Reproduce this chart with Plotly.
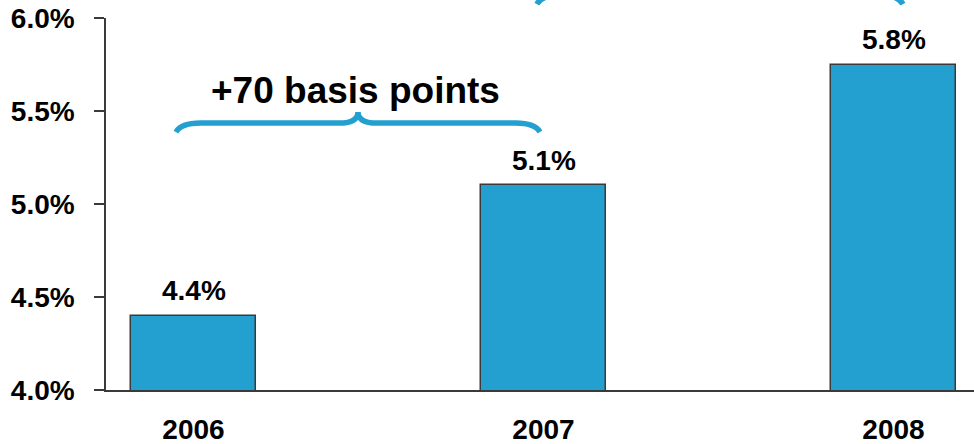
import plotly.graph_objects as go

# Yearly rate, in percent
years = ["2006", "2007", "2008"]
rates = [4.4, 5.1, 5.75]

# Value axis ticks
y_ticks = [4.0, 4.5, 5.0, 5.5, 6.0]
y_tick_labels = ["4.0%", "4.5%", "5.0%", "5.5%", "6.0%"]

brace_label = "+70 basis points"

BLUE = "#24A0D0"
DARK = "#3A3A3A"
FONT = "Arial, Liberation Sans, sans-serif"

X_RANGE = [-0.25, 2.23]
Y_RANGE = [4.0, 6.0]


def to_paper(x, y):
    px = (x - X_RANGE[0]) / (X_RANGE[1] - X_RANGE[0])
    py = (y - Y_RANGE[0]) / (Y_RANGE[1] - Y_RANGE[0])
    return px, py


def brace_path(x0, x1, y_tip, y_line, y_peak, r_end=0.07, r_mid=0.055):
    """Curly brace opening downward, in paper coordinates."""
    xm = (x0 + x1) / 2
    pts = {
        "tipL": to_paper(x0, y_tip),
        "cL": to_paper(x0 + 0.015, y_line),
        "hL": to_paper(x0 + r_end, y_line),
        "mL": to_paper(xm - r_mid, y_line),
        "cM": to_paper(xm, y_line),
        "pk": to_paper(xm, y_peak),
        "mR": to_paper(xm + r_mid, y_line),
        "hR": to_paper(x1 - r_end, y_line),
        "cR": to_paper(x1 - 0.015, y_line),
        "tipR": to_paper(x1, y_tip),
    }
    f = lambda k: f"{pts[k][0]:.5f},{pts[k][1]:.5f}"
    return (
        f"M{f('tipL')} Q{f('cL')} {f('hL')} L{f('mL')} Q{f('cM')} {f('pk')} "
        f"Q{f('cM')} {f('mR')} L{f('hR')} Q{f('cR')} {f('tipR')}"
    )


fig = go.Figure(
    go.Bar(
        x=years,
        y=rates,
        width=0.357,
        marker=dict(color=BLUE, line=dict(color=DARK, width=1.5)),
        hoverinfo="skip",
    )
)

# Value labels above each bar (category axis positions are serial indices)
for i, v in enumerate(rates):
    fig.add_annotation(
        x=i, y=v, xref="x", yref="y", text=f"{v:.1f}%", showarrow=False,
        yanchor="middle", yshift=25,
        font=dict(family=FONT, size=28, color="#000000", weight="bold"),
    )

# Braces spanning consecutive years
brace_specs = [
    (-0.05, 0.99, 5.387, 5.435, 5.495),
    (0.981, 2.027, 6.075, 6.124, 6.183),
]
for x0, x1, yt, yl, yp in brace_specs:
    fig.add_shape(
        type="path", xref="paper", yref="paper",
        path=brace_path(x0, x1, yt, yl, yp),
        line=dict(color=BLUE, width=5.5),
        layer="above",
    )

fig.add_annotation(
    x=0.464, y=5.608, xref="x", yref="y", text=brace_label, showarrow=False,
    font=dict(family=FONT, size=37, color="#000000", weight="bold"),
)

fig.update_layout(
    width=974, height=444,
    margin=dict(l=106, r=0, t=18, b=54),
    paper_bgcolor="white", plot_bgcolor="white",
    showlegend=False,
    bargap=0,
    xaxis=dict(
        type="category", range=X_RANGE, automargin=False,
        showline=True, linecolor=DARK, linewidth=1.5,
        showgrid=False, zeroline=False, ticks="",
        ticklabelstandoff=14,
        tickfont=dict(family=FONT, size=28, color="#000000", weight="bold"),
    ),
    yaxis=dict(
        range=Y_RANGE, automargin=False,
        tickvals=y_ticks, ticktext=y_tick_labels,
        showline=True, linecolor=DARK, linewidth=1.5,
        ticks="outside", ticklen=10, tickwidth=1.5, tickcolor=DARK,
        showgrid=False, zeroline=False,
        ticklabelstandoff=14,
        tickfont=dict(family=FONT, size=28, color="#000000", weight="bold"),
    ),
)

fig.write_html("out.html")
